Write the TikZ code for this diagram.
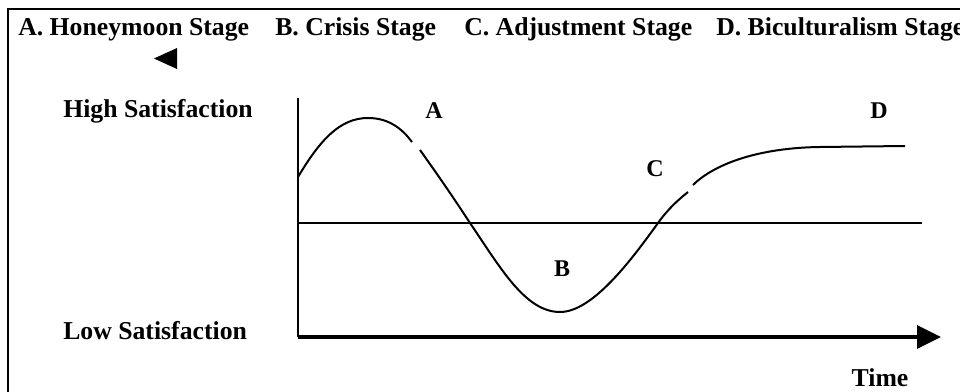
\documentclass[tikz,border=0pt]{standalone}
\usepackage{fontspec}
\setmainfont{Liberation Serif}
\usetikzlibrary{arrows.meta}

\begin{document}
\begin{tikzpicture}[x=0.75pt,y=-0.75pt,
  lbl/.style={font=\bfseries\fontsize{19.3}{23}\selectfont,inner sep=0pt},
  pt/.style={font=\bfseries\fontsize{18}{21}\selectfont,inner sep=0pt,anchor=base},
  curve/.style={line width=1.5pt}]
\useasboundingbox (0,0) rectangle (960,392);
\clip (0,0) rectangle (960,392);
\draw[line width=1.5pt] (8,9) rectangle (980,410);
% stage headings
\node[lbl,anchor=base west] (hA) at (18,36) {A. Honeymoon Stage};
\node[lbl,anchor=base west] (hB) at (275,36) {B. Crisis Stage};
\node[lbl,anchor=base west] (hC) at (464,36) {C. Adjustment Stage};
\node[lbl,anchor=base west] (hD) at (716,36) {D. Biculturalism Stage};
\fill (154,58.5) -- (177,48) -- (177,69) -- cycle;
% axes
\coordinate (top) at (298,98);
\coordinate (o) at (298,337);
\coordinate (tend) at (941,337);
\coordinate (mid0) at (298,223);
\coordinate (mid1) at (922,223);
\draw[line width=2pt] (top) -- (o);
\draw[line width=3pt,-{Triangle[length=18pt,width=17pt]}] (o) -- (tend);
\draw[line width=1.5pt] (mid0) -- (mid1);
\node[lbl,anchor=base west] (high) at (63,118) {High Satisfaction};
\node[lbl,anchor=base west] (low) at (63,339) {Low Satisfaction};
\node[lbl,anchor=base] (time) at (880,386) {Time};
% the curve, broken at A and C
\draw[curve] (298,177) .. controls (320,140) and (340,118) .. (368,118)
  .. controls (390,118) and (403,130) .. (412,142);
\draw[curve] (420,150) .. controls (440,178) and (455,200) .. (470,223)
  .. controls (500,267) and (525,312) .. (560,312)
  .. controls (592,312) and (630,262) .. (658,223)
  .. controls (668,209) and (678,200) .. (688,192);
\draw[curve] (693,185) .. controls (710,168) and (750,148) .. (820,147) -- (905,146);
\node[pt] (a) at (434,119) {A};
\node[pt] (b) at (562,276) {B};
\node[pt] (c) at (655,176) {C};
\node[pt] (d) at (879,119) {D};
\end{tikzpicture}
\end{document}
